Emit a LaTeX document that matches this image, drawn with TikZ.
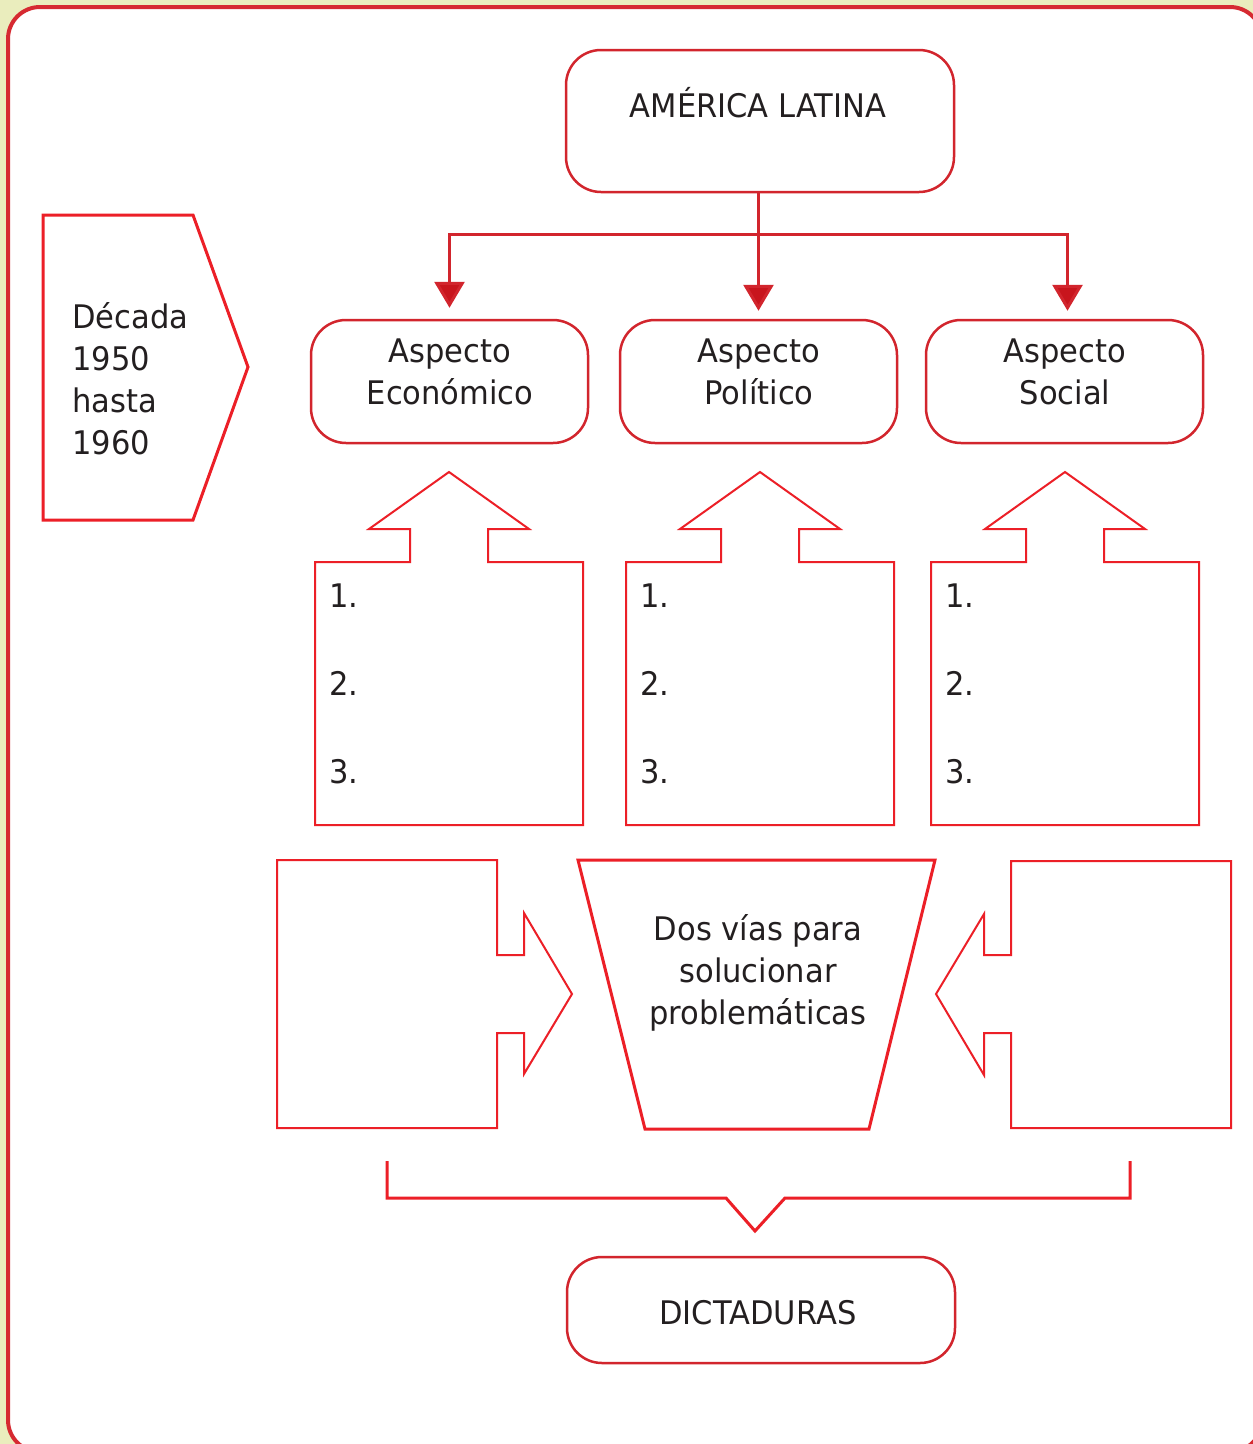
\documentclass[tikz,border=0pt]{standalone}
\usepackage{fontspec}
\setmainfont[FakeStretch=0.94]{DejaVu Sans}
\usetikzlibrary{arrows.meta}
\definecolor{bg}{HTML}{EAEDBD}
\definecolor{framered}{HTML}{D62A31}
\definecolor{boxred}{HTML}{D2252D}
\definecolor{thinred}{HTML}{EC1F27}
\definecolor{arrred}{HTML}{C8151D}
\definecolor{txt}{HTML}{231F20}
\begin{document}
\begin{tikzpicture}[x=1pt,y=-1pt,
  lbl/.style={text=txt, font=\fontsize{32.5}{42}\selectfont, inner sep=0pt},
  rbox/.style={draw=boxred, line width=2.5pt, rounded corners=35pt, inner sep=0pt},
  conn/.style={draw=boxred, line width=3pt, -{Triangle[width=30pt,length=26pt,fill=arrred]}},
  thinshape/.style={draw=thinred, line width=2pt, line join=miter},
  midshape/.style={draw=thinred, line width=3pt, line join=miter}]
\useasboundingbox (0,0) rectangle (1253,1444);
\fill[bg] (0,0) rectangle (1253,1444);
\draw[draw=framered, line width=4pt, fill=white, rounded corners=32pt] (8,7) rectangle (1262,1452);

% top box
\node[rbox, minimum width=388pt, minimum height=142pt] (am) at (760,121) {};
\node[lbl, anchor=base] (amt) at (758,117) {AMÉRICA LATINA};

% aspect boxes
\node[rbox, minimum width=277pt, minimum height=123pt] (eco) at (449.5,381.5) {};
\node[rbox, minimum width=277pt, minimum height=123pt] (pol) at (758.5,381.5) {};
\node[rbox, minimum width=277pt, minimum height=123pt] (soc) at (1064.5,381.5) {};
\node[lbl, align=center] (ecot) at (450,372) {Aspecto\\Económico};
\node[lbl, align=center] (polt) at (759,372) {Aspecto\\Político};
\node[lbl, align=center] (soct) at (1065,372) {Aspecto\\Social};

% connectors
\coordinate (split) at (758.5,234);
\draw[conn, shorten >=8pt] (pol.north |- am.south) -- (pol.north);
\draw[draw=boxred, line width=3pt] (449.5,234) -- (1067.5,234);
\draw[conn, shorten >=11pt] (split) -| (eco.north);
\draw[conn, shorten >=8pt] (split) -| ([xshift=3pt]soc.north);

% decade
\draw[midshape] (43,215) -- (193,215) -- (248,367) -- (193,520) -- (43,520) -- cycle;
\node[lbl, align=left, anchor=west] (dec) at (72,379) {Década\\1950\\hasta\\1960};

% up arrow boxes
\foreach \c/\n in {449/eco,760/pol,1065/soc}{
  \draw[thinshape] ({\c-134},562) -- ({\c-39},562) -- ({\c-39},529) -- ({\c-80},529) -- (\c,472)
    -- ({\c+80},529) -- ({\c+39},529) -- ({\c+39},562) -- ({\c+134},562) -- ({\c+134},825)
    -- ({\c-134},825) -- cycle;
  \node[lbl, anchor=base west] (one\n) at ({\c-120},607) {1.};
  \node[lbl, anchor=base west] (two\n) at ({\c-120},695) {2.};
  \node[lbl, anchor=base west] (three\n) at ({\c-120},783) {3.};
}

% side arrow boxes
\draw[thinshape] (277,860) -- (497,860) -- (497,955) -- (524,955) -- (524,913) -- (572,994)
  -- (524,1074) -- (524,1033) -- (497,1033) -- (497,1128) -- (277,1128) -- cycle;
\draw[thinshape] (1231,861) -- (1011,861) -- (1011,955) -- (984,955) -- (984,914) -- (936,994)
  -- (984,1075) -- (984,1033) -- (1011,1033) -- (1011,1128) -- (1231,1128) -- cycle;

% trapezoid
\draw[midshape] (578,860) -- (935,860) -- (869,1129) -- (645,1129) -- cycle;
\node[lbl, align=center] (dos) at (758,973) {Dos vías para\\solucionar\\problemáticas};

% bracket
\coordinate (bl) at (387,1161);
\coordinate (br) at (1130,1161);
\draw[midshape] (bl) -- (387,1198) -- (726,1198) -- (755,1231) -- (785,1198) -- (1130,1198) -- (br);

% bottom box
\node[rbox, minimum width=388pt, minimum height=106pt] (dic) at (761,1310) {};
\node[lbl, anchor=base] (dict) at (758,1324) {DICTADURAS};
\end{tikzpicture}
\end{document}
